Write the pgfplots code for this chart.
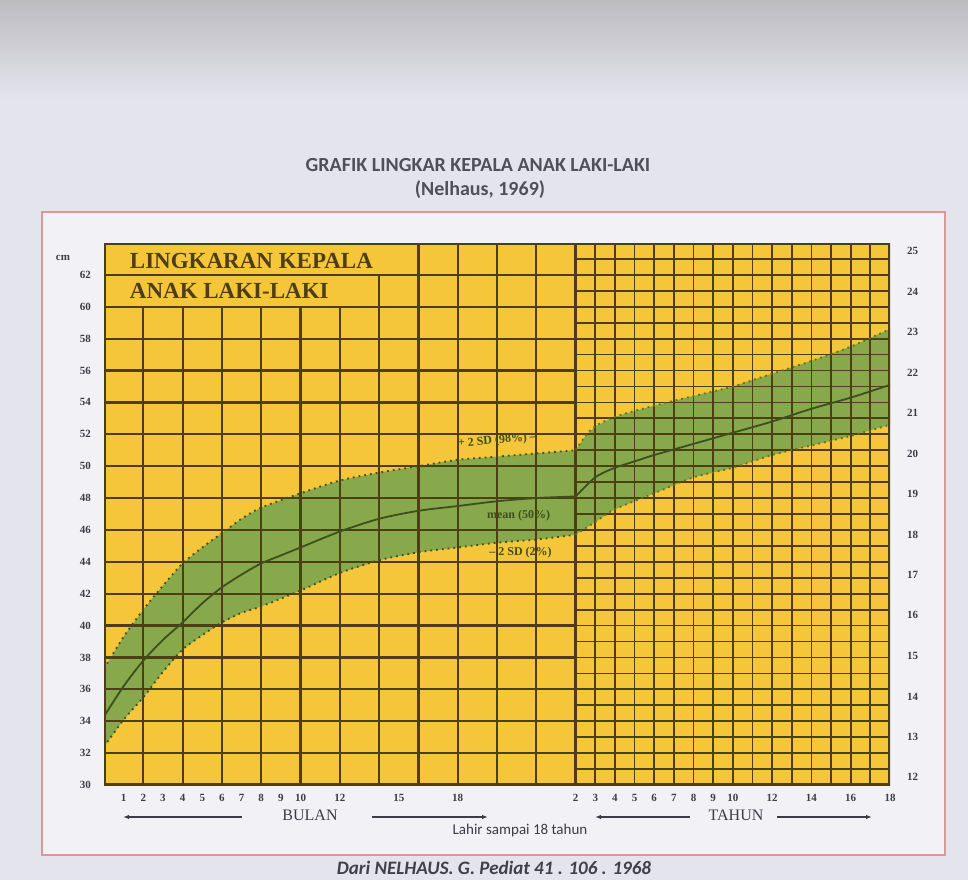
\documentclass[border=0pt]{standalone}
\usepackage{fontspec}
\setmainfont{Liberation Serif}
\newfontfamily\calibri{Carlito}
\usepackage{pgfplots}
\pgfplotsset{compat=1.18}
\usetikzlibrary{arrows.meta}

\definecolor{bgpage}{RGB}{228,228,236}
\definecolor{bginner}{RGB}{242,242,246}
\definecolor{chartyellow}{RGB}{245,198,58}
\definecolor{bandgreen}{RGB}{136,168,76}
\definecolor{gridc}{RGB}{78,62,22}
\definecolor{curvec}{RGB}{62,78,30}
\definecolor{framepink}{RGB}{225,150,150}
\definecolor{titlegray}{RGB}{80,80,90}
\definecolor{labelgray}{RGB}{60,60,70}

\begin{document}
\begin{tikzpicture}
\useasboundingbox (0,0) rectangle (484pt,440pt);
\fill[bgpage] (0,0) rectangle (484pt,440pt);
\shade[top color=gray!40!bgpage, bottom color=bgpage] (0,390pt) rectangle (484pt,440pt);
\fill[bginner] (21pt,12.5pt) rectangle (472.5pt,334pt);
\draw[framepink, line width=1pt] (21pt,12.5pt) rectangle (472.5pt,334pt);

\node[font=\calibri\fontsize{10}{12}\selectfont\bfseries, text=titlegray] at (239pt,357.5pt) {GRAFIK LINGKAR KEPALA ANAK LAKI-LAKI};
\node[font=\calibri\fontsize{10}{12}\selectfont\bfseries, text=titlegray] at (240pt,345pt) {(Nelhaus, 1969)};

\begin{axis}[
  at={(52pt,47.5pt)}, anchor=south west,
  scale only axis, width=393pt, height=271pt,
  xmin=0, xmax=40, ymin=30, ymax=64,
  axis background/.style={fill=chartyellow},
  axis line style={draw=none},
  tick style={draw=none},
  ytick={30,32,...,62},
  xtick={1,2,3,4,5,6,7,8,9,10,12,15,18,24,25,26,27,28,29,30,31,32,34,36,38,40},
  xticklabels={1,2,3,4,5,6,7,8,9,10,12,15,18,2,3,4,5,6,7,8,9,10,12,14,16,18},
  ticklabel style={font=\fontsize{5.5}{6}\selectfont\bfseries, text=labelgray},
  /pgf/number format/assume math mode=true,
  yticklabel style={xshift=-3pt},
  xticklabel style={yshift=-1pt},
]
% green band, months 0-24 (upper curve, then lower curve reversed)
\addplot[fill=bandgreen, draw=none] coordinates {(0,37.3)(1,39.3)(2,41.0)(3,42.5)(4,43.9)(5,44.9)(6,45.8)(7,46.7)(8,47.4)(10,48.3)(12,49.1)(14,49.6)(16,50.0)(18,50.4)(20,50.6)(22,50.8)(24,51.0)
 (24,45.7)(22,45.4)(20,45.2)(18,44.9)(16,44.6)(14,44.1)(12,43.3)(10,42.2)(8,41.2)(7,40.8)(6,40.2)(5,39.4)(4,38.5)(3,37.1)(2,35.5)(1,34.1)(0,32.4)} -- cycle;
% green band, years 2-18 (x = 22 + year)
\addplot[fill=bandgreen, draw=none] coordinates {(24,51.0)(24.5,51.9)(25,52.5)(26,53.1)(28,53.8)(30,54.4)(32,55.0)(34,55.8)(36,56.6)(38,57.5)(40,58.6)
 (40,52.6)(38,51.9)(36,51.3)(34,50.7)(32,49.9)(30,49.3)(28,48.3)(26,47.3)(25,46.5)(24,45.7)} -- cycle;

% grid, month part
\draw[gridc, line width=1.1pt] (axis cs:2,30) -- (axis cs:2,60);
\draw[gridc, line width=1.1pt] (axis cs:4,30) -- (axis cs:4,60);
\draw[gridc, line width=1.1pt] (axis cs:6,30) -- (axis cs:6,60);
\draw[gridc, line width=1.1pt] (axis cs:8,30) -- (axis cs:8,60);
\draw[gridc, line width=1.1pt] (axis cs:10,30) -- (axis cs:10,60);
\draw[gridc, line width=1.1pt] (axis cs:12,30) -- (axis cs:12,60);
\draw[gridc, line width=1.1pt] (axis cs:14,30) -- (axis cs:14,62);
\draw[gridc, line width=1.1pt] (axis cs:16,30) -- (axis cs:16,64);
\draw[gridc, line width=1.1pt] (axis cs:18,30) -- (axis cs:18,64);
\draw[gridc, line width=1.1pt] (axis cs:20,30) -- (axis cs:20,64);
\draw[gridc, line width=1.1pt] (axis cs:22,30) -- (axis cs:22,64);
\pgfplotsinvokeforeach{32,34,36,38,40,42,44,46,48,50,52,54,56,58,60,62}{\draw[gridc, line width=1.1pt] (axis cs:0,#1) -- (axis cs:24,#1);}
% grid, year part
\pgfplotsinvokeforeach{25,26,27,28,29,30,31,32,33,34,35,36,37,38,39}{\draw[gridc, line width=0.9pt] (axis cs:#1,30) -- (axis cs:#1,64);}
\pgfplotsinvokeforeach{31,32,33,34,35,36,37,38,39,40,41,42,43,44,45,46,47,48,49,50,51,52,53,54,55,56,57,58,59,60,61,62,63}{\draw[gridc, line width=0.9pt] (axis cs:24,#1) -- (axis cs:40,#1);}
\draw[gridc, line width=1.4pt] (axis cs:24,30) -- (axis cs:24,64);

% curves
\addplot[curvec, line width=0.9pt, dotted, smooth] coordinates {(0,37.3)(1,39.3)(2,41.0)(3,42.5)(4,43.9)(5,44.9)(6,45.8)(7,46.7)(8,47.4)(10,48.3)(12,49.1)(14,49.6)(16,50.0)(18,50.4)(20,50.6)(22,50.8)(24,51.0)};
\addplot[curvec, line width=0.9pt, dotted, smooth] coordinates {(0,32.4)(1,34.1)(2,35.5)(3,37.1)(4,38.5)(5,39.4)(6,40.2)(7,40.8)(8,41.2)(10,42.2)(12,43.3)(14,44.1)(16,44.6)(18,44.9)(20,45.2)(22,45.4)(24,45.7)};
\addplot[curvec, line width=0.9pt, smooth] coordinates {(0,34.3)(1,36.2)(2,37.8)(3,39.1)(4,40.2)(5,41.4)(6,42.4)(7,43.2)(8,43.9)(9,44.4)(10,44.9)(12,45.9)(14,46.7)(16,47.2)(18,47.5)(20,47.8)(22,48.0)(24,48.1)};
\addplot[curvec!80!yellow, line width=0.9pt, dotted, smooth] coordinates {(24,51.0)(24.5,51.9)(25,52.5)(26,53.1)(28,53.8)(30,54.4)(32,55.0)(34,55.8)(36,56.6)(38,57.5)(40,58.6)};
\addplot[curvec!80!yellow, line width=0.9pt, dotted, smooth] coordinates {(24,45.7)(25,46.5)(26,47.3)(28,48.3)(30,49.3)(32,49.9)(34,50.7)(36,51.3)(38,51.9)(40,52.6)};
\addplot[curvec, line width=0.9pt, smooth] coordinates {(24,48.1)(25,49.3)(26,49.9)(27,50.3)(28,50.7)(30,51.4)(32,52.1)(34,52.8)(36,53.6)(38,54.3)(40,55.1)};

% border
\draw[gridc, line width=1.6pt] (axis cs:0,30) rectangle (axis cs:40,64);

% texts in the chart
\node[anchor=west, font=\fontsize{11.5}{12}\selectfont\bfseries, text=gridc, inner sep=0pt] at (axis cs:1.3,62.9) {LINGKARAN KEPALA};
\node[anchor=west, font=\fontsize{11.5}{12}\selectfont\bfseries, text=gridc, inner sep=0pt] at (axis cs:1.3,61.0) {ANAK LAKI-LAKI};
\node[rotate=5, font=\fontsize{6}{7}\selectfont\bfseries, text=curvec] at (axis cs:20.0,51.6) {+ 2 SD (98\%) --};
\node[font=\fontsize{6}{7}\selectfont\bfseries, text=curvec] at (axis cs:21.1,46.9) {mean (50\%)};
\node[font=\fontsize{6}{7}\selectfont\bfseries, text=curvec] at (axis cs:21.2,44.6) {-- 2 SD (2\%)};
\end{axis}

\begin{axis}[
  at={(52pt,47.5pt)}, anchor=south west,
  scale only axis, width=393pt, height=271pt,
  xmin=0, xmax=40, ymin=11.811, ymax=25.197,
  axis y line*=right, axis x line=none,
  axis line style={draw=none},
  tick style={draw=none},
  ytick={12,13,...,25},
  ticklabel style={font=\fontsize{5.5}{6}\selectfont\bfseries, text=labelgray},
  /pgf/number format/assume math mode=true,
  yticklabel style={xshift=5pt},
]
\addplot[draw=none] coordinates {(0,12)(40,25)};
\end{axis}

\node[font=\fontsize{5.5}{6}\selectfont\bfseries, text=labelgray] at (31.5pt,311pt) {cm};
\node[font=\fontsize{8}{9}\selectfont, text=labelgray] at (155pt,32.5pt) {BULAN};
\draw[labelgray, line width=0.6pt, -{Latex[length=3pt]}] (121pt,31.5pt) -- (61.5pt,31.5pt);
\draw[labelgray, line width=0.6pt, -{Latex[length=3pt]}] (186pt,31.5pt) -- (244pt,31.5pt);
\node[font=\fontsize{8}{9}\selectfont, text=labelgray] at (368pt,32.5pt) {TAHUN};
\draw[labelgray, line width=0.6pt, -{Latex[length=3pt]}] (345pt,31.5pt) -- (297.5pt,31.5pt);
\draw[labelgray, line width=0.6pt, -{Latex[length=3pt]}] (388.5pt,31.5pt) -- (436pt,31.5pt);
\node[font=\calibri\fontsize{7.5}{9}\selectfont, text=labelgray] at (260pt,25pt) {Lahir sampai 18 tahun};
\node[font=\calibri\fontsize{9.5}{11}\selectfont\bfseries\itshape, text=titlegray!80!black] at (247pt,6pt) {Dari NELHAUS. G. Pediat 41 . 106 . 1968};
\end{tikzpicture}
\end{document}
